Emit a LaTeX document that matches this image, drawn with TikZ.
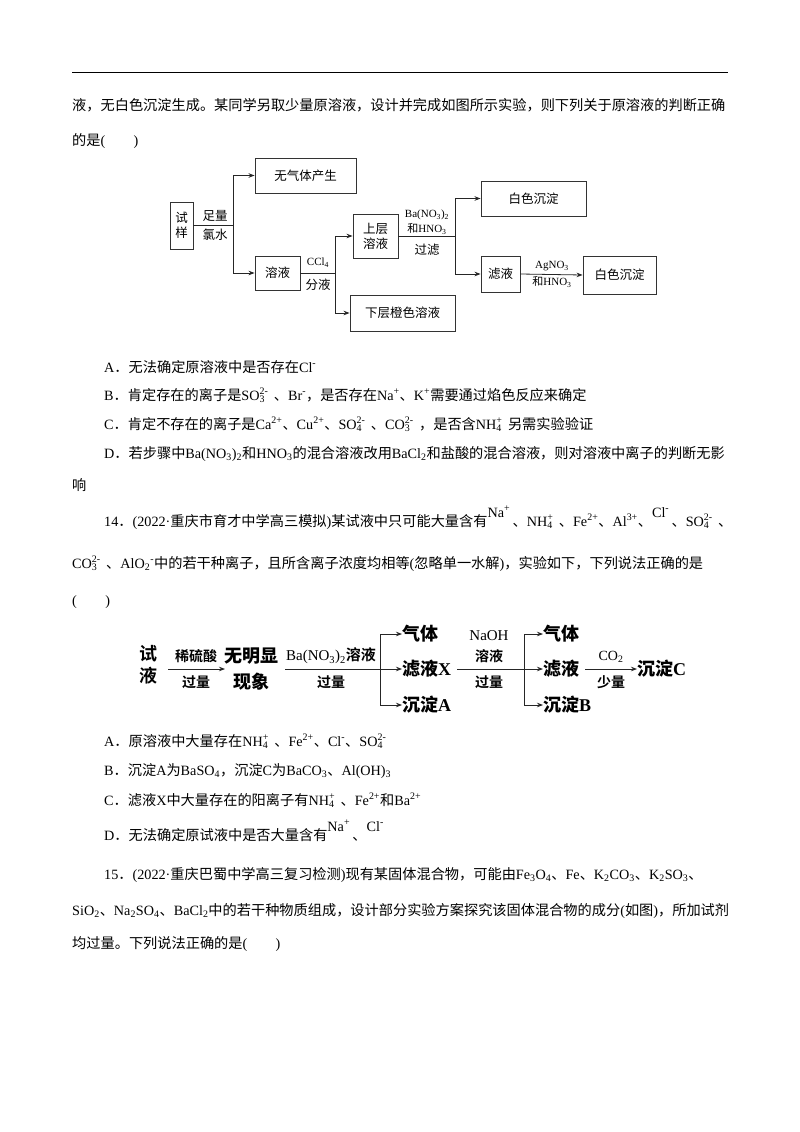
\documentclass[tikz,border=0pt]{standalone}
\usepackage{fontspec}
\usetikzlibrary{arrows.meta}
\setmainfont{Liberation Serif}
\newfontfamily\cjkreg{Noto Sans CJK SC}
\newfontfamily\cjkbold{Noto Sans CJK SC Bold}
\newcommand\latreg{\rmfamily\mdseries}
\newcommand\latbold{\rmfamily\bfseries}
\let\cjk\cjkreg
\let\lat\latreg
\XeTeXinterchartokenstate=1
\newXeTeXintercharclass\cjkclass
\newcount\cc
\cc="3000 \loop\ifnum\cc<"3040 \XeTeXcharclass\cc=\cjkclass \advance\cc 1 \repeat
\cc="4E00 \loop\ifnum\cc<"A000 \XeTeXcharclass\cc=\cjkclass \advance\cc 1 \repeat
\cc="FF00 \loop\ifnum\cc<"FFF0 \XeTeXcharclass\cc=\cjkclass \advance\cc 1 \repeat
\XeTeXinterchartoks 0 \cjkclass = {\cjk}
\XeTeXinterchartoks 4095 \cjkclass = {\cjk}
\XeTeXinterchartoks \cjkclass 0 = {\lat}
\newcommand\ionx[3]{#1\rlap{\textsuperscript{#3}}\textsubscript{#2}\hphantom{\textsuperscript{#3}}}
\newcommand\ionp[2]{#1\textsuperscript{#2}}
\newcommand\upion[2]{\raisebox{9pt}{\lat #1\textsuperscript{#2}}}
\tikzset{
  txt/.style={anchor=base west,inner sep=0pt,font=\fontsize{14.2}{16}\selectfont},
  box/.style={draw=black!80,line width=0.9pt,inner sep=1pt,align=center,font=\fontsize{12.5}{15}\selectfont},
  lab/.style={inner sep=0pt,align=center,font=\fontsize{11}{13}\selectfont},
  ln/.style={line width=0.8pt,draw=black!85},
  arr/.style={ln,-{Stealth[length=6pt,width=4.5pt]}},
  big/.style={inner sep=0pt,font=\fontsize{18}{20}\selectfont\let\cjk\cjkbold\let\lat\latbold\latbold},
  sml/.style={inner sep=0pt,align=center,font=\fontsize{14}{17}\selectfont\let\cjk\cjkbold},
}
\begin{document}
\begin{tikzpicture}[x=1pt,y=-1pt]
\useasboundingbox (0,0) rectangle (800,1132);
\fill[white] (0,0) rectangle (800,1132);
\draw[line width=0.8pt] (72,72) -- (728,72);
% text top
\node[txt] (l1) at (72,110) {液，无白色沉淀生成。某同学另取少量原溶液，设计并完成如图所示实验，则下列关于原溶液的判断正确};
\node[txt] (l2) at (72,145) {的是(\hspace{2em})};
% diagram 1
\node[box,minimum width=23pt,minimum height=47pt] (sy) at (181.5,225.5) {试\\样};
\node[box,minimum width=101pt,minimum height=35pt] (wq) at (305.5,175.5) {无气体产生};
\node[box,minimum width=45pt,minimum height=34pt] (ry) at (277.5,273) {溶液};
\node[box,minimum width=45pt,minimum height=44pt] (sc) at (375.5,236) {上层\\溶液};
\node[box,minimum width=105pt,minimum height=36pt] (xc) at (402.5,313) {下层橙色溶液};
\node[box,minimum width=105pt,minimum height=35pt] (bs1) at (533.5,198.5) {白色沉淀};
\node[box,minimum width=39pt,minimum height=36pt] (lv) at (500.5,274) {滤液};
\node[box,minimum width=73pt,minimum height=38pt] (bs2) at (619.5,275) {白色沉淀};
\coordinate (j1) at (233,225.5);
\coordinate (j2) at (335,273);
\coordinate (j3) at (455,236);
\draw[ln] (sy.east) -- (j1);
\draw[arr] (j1) |- (wq.west);
\draw[arr] (j1) |- (ry.west);
\draw[ln] (ry.east) -- (j2);
\draw[arr] (j2) |- (sc.west);
\draw[arr] (j2) |- (xc.west);
\draw[ln] (sc.east) -- (j3);
\draw[arr] (j3) |- (bs1.west);
\draw[arr] (j3) |- (lv.west);
\draw[arr] (lv.east) -- (bs2.west);
\node[lab,font=\fontsize{12.5}{15}\selectfont] (d1) at (215,216) {足量};
\node[lab,font=\fontsize{12.5}{15}\selectfont] (d2) at (215,235) {氯水};
\node[lab] (d3) at (318,263) {CCl\textsubscript{4}};
\node[lab,font=\fontsize{12.5}{15}\selectfont] (d4) at (318,285) {分液};
\node[lab] (d5) at (427,215) {Ba(NO\textsubscript{3})\textsubscript{2}};
\node[lab] (d6) at (427,229) {和HNO\textsubscript{3}};
\node[lab,font=\fontsize{12.5}{15}\selectfont] (d7) at (427,250) {过滤};
\node[lab] (d8) at (552,266) {AgNO\textsubscript{3}};
\node[lab] (d9) at (552,282) {和HNO\textsubscript{3}};
% options 13
\node[txt] (a13) at (104,372) {A．无法确定原溶液中是否存在\ionp{Cl}{-}};
\node[txt] (b13) at (104,400) {B．肯定存在的离子是\ionx{SO}{3}{2-}、\ionp{Br}{-}，是否存在\ionp{Na}{+}、\ionp{K}{+}需要通过焰色反应来确定};
\node[txt] (c13) at (104,429) {C．肯定不存在的离子是\ionp{Ca}{2+}、\ionp{Cu}{2+}、\ionx{SO}{4}{2-}、\ionx{CO}{3}{2-}，是否含\ionx{NH}{4}{+}另需实验验证};
\node[txt] (d13) at (104,458) {D．若步骤中Ba(NO\textsubscript{3})\textsubscript{2}和HNO\textsubscript{3}的混合溶液改用BaCl\textsubscript{2}和盐酸的混合溶液，则对溶液中离子的判断无影};
\node[txt] (e13) at (72,490) {响};
% question 14
\node[txt] (q14) at (104,526) {14．(2022·重庆市育才中学高三模拟)某试液中只可能大量含有\upion{Na}{+}\,、\ionx{NH}{4}{+}、\ionp{Fe}{2+}、\ionp{Al}{3+}、\upion{Cl}{-}\,、\ionx{SO}{4}{2-}、};
\node[txt] (q14b) at (72,568) {\ionx{CO}{3}{2-}、AlO\textsubscript{2}\textsuperscript{-}中的若干种离子，且所含离子浓度均相等(忽略单一水解)，实验如下，下列说法正确的是};
\node[txt] (q14c) at (72,605) {(\hspace{2em})};
% diagram 2
\node[big,align=center,font=\fontsize{18}{22}\selectfont\let\cjk\cjkbold] (sy2) at (148,665) {试\\液};
\node[big] (wm) at (251,656) {无明显};
\node[big] (xx) at (251,682) {现象};
\node[big,anchor=west] (qt1) at (402,634) {气体};
\node[big,anchor=west] (lx) at (402,669) {滤液X};
\node[big,anchor=west] (cd1) at (402,705) {沉淀A};
\node[big,anchor=west] (qt2) at (543,634) {气体};
\node[big,anchor=west] (lv2) at (543,669) {滤液};
\node[big,anchor=west] (cd2) at (543,705) {沉淀B};
\node[big,anchor=west] (cdc) at (637,669) {沉淀C};
\coordinate (s1) at (168,669);
\coordinate (e1) at (225,669);
\coordinate (s2) at (285,669);
\coordinate (j4) at (380,669);
\coordinate (j5) at (524,669);
\draw[arr] (s1) -- (e1);
\draw[ln] (s2) -- (j4);
\draw[arr] (j4) |- (qt1.west);
\draw[arr] (j4) -- (lx.west);
\draw[arr] (j4) |- (cd1.west);
\draw[ln] (lx.east) ++(6,0) -- (j5);
\draw[arr] (j5) |- (qt2.west);
\draw[arr] (j5) -- (lv2.west);
\draw[arr] (j5) |- (cd2.west);
\draw[arr] ([xshift=6pt]lv2.east) -- (cdc.west);
\node[sml] (g1) at (196,656) {稀硫酸};
\node[sml] (g2) at (196,682) {过量};
\node[sml,font=\fontsize{15}{17}\selectfont\let\cjk\cjkbold] (g3) at (331,656) {Ba(NO\textsubscript{3})\textsubscript{2}溶液};
\node[sml] (g4) at (331,682) {过量};
\node[sml,font=\fontsize{15}{17}\selectfont] (g5) at (489,636) {NaOH};
\node[sml] (g6) at (489,656) {溶液};
\node[sml] (g7) at (489,682) {过量};
\node[sml,font=\fontsize{14}{17}\selectfont] (g8) at (611,657) {CO\textsubscript{2}};
\node[sml] (g9) at (611,682) {少量};
% options 14
\node[txt] (a14) at (104,746) {A．原溶液中大量存在\ionx{NH}{4}{+}、\ionp{Fe}{2+}、\ionp{Cl}{-}、\ionx{SO}{4}{2-}};
\node[txt] (b14) at (104,775) {B．沉淀A为BaSO\textsubscript{4}，沉淀C为BaCO\textsubscript{3}、Al(OH)\textsubscript{3}};
\node[txt] (c14) at (104,805) {C．滤液X中大量存在的阳离子有\ionx{NH}{4}{+}、\ionp{Fe}{2+}和\ionp{Ba}{2+}};
\node[txt] (d14) at (104,840) {D．无法确定原试液中是否大量含有\upion{Na}{+}\,、\upion{Cl}{-}};
% question 15
\node[txt] (q15) at (104,879) {15．(2022·重庆巴蜀中学高三复习检测)现有某固体混合物，可能由Fe\textsubscript{3}O\textsubscript{4}、Fe、K\textsubscript{2}CO\textsubscript{3}、K\textsubscript{2}SO\textsubscript{3}、};
\node[txt] (q15b) at (72,915) {SiO\textsubscript{2}、Na\textsubscript{2}SO\textsubscript{4}、BaCl\textsubscript{2}中的若干种物质组成，设计部分实验方案探究该固体混合物的成分(如图)，所加试剂};
\node[txt] (q15c) at (72,948) {均过量。下列说法正确的是(\hspace{2em})};
\end{tikzpicture}
\end{document}
